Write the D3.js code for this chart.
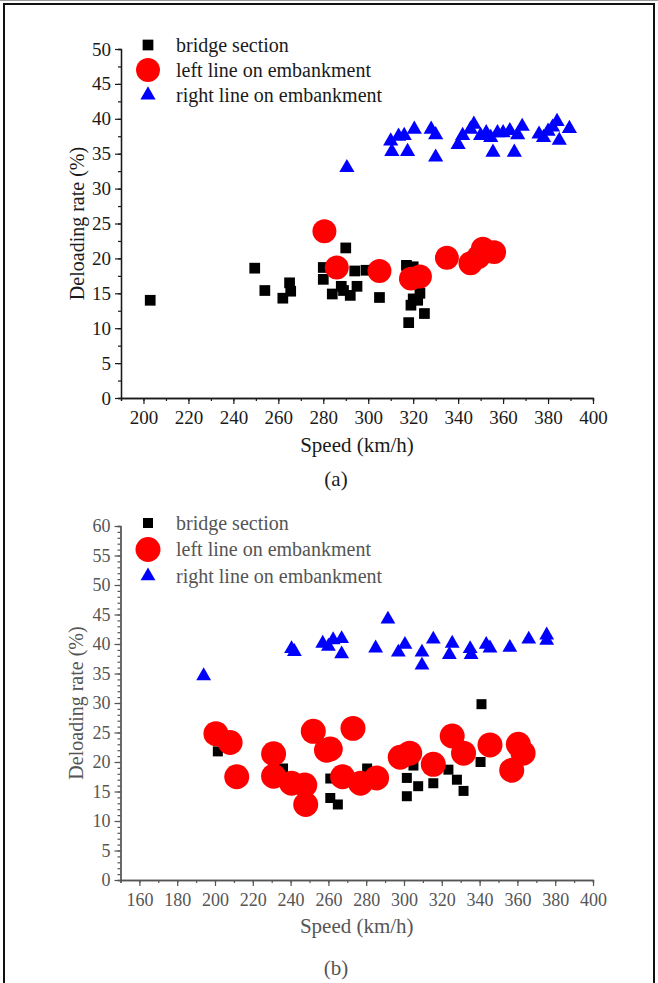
<!DOCTYPE html>
<html>
<head>
<meta charset="utf-8">
<script src="https://cdn.jsdelivr.net/npm/d3@7"></script>
<style>
  body { margin: 0; background: #fff; }
  svg { display: block; }
  text { font-family: "Liberation Serif", "Times New Roman", serif; }
</style>
</head>
<body>
<div id="chart"></div>
<script>
// legend names
var seriesNames = ["bridge section", "left line on embankment", "right line on embankment"];

// panel (a) values: [speed km/h, deloading rate %]
var bridgeA = [[203,14.0],[249.5,18.6],[254,15.4],[262,14.3],[265,16.5],[265.5,15.3],[280,18.7],[280,17.0],
  [284,14.9],[290,21.5],[288,16.0],[289,15.4],[292,14.7],[295,16.0],[294,18.2],[299,18.3],[305,14.4],
  [317,19.0],[320,18.8],[318,10.8],[319,13.3],[320,14.2],[322,14.0],[323,15.0],[325,12.1],[321,17.5]];
var leftA = [[280.5,23.9],[286,18.7],[305,18.2],[319,17.1],[323,17.4],[335,20.1],[345.5,19.3],[349,20.2],
  [351,21.4],[356,20.9]];
var rightA = [[290.5,33.0],[310,36.8],[310.5,35.3],[313.5,37.5],[316,37.6],[317.5,35.3],[320.5,38.5],
  [328,38.5],[330,37.7],[330,34.5],[340,36.3],[342,37.6],[345.5,38.5],[347,39.2],[350,37.6],[352.5,38.0],
  [354.5,37.3],[355.5,35.2],[357.5,38.0],[360,38.0],[363,38.3],[365,35.2],[366.5,37.7],[368.5,38.9],
  [376,37.8],[378,37.3],[380,38.2],[382,38.8],[384,39.6],[385,36.9],[389.5,38.6]];

// panel (b) values
var bridgeB = [[201.5,21.8],[236,18.9],[261,17.2],[261,13.9],[265,12.8],[280.5,18.9],[301.5,17.3],
  [301.5,14.2],[305,19.4],[307.5,15.9],[315.5,16.4],[323.5,18.7],[328,17.0],[331.5,15.1],[340.5,20.0],[341,29.8]];
var leftB = [[200.5,24.8],[208,23.3],[211.5,17.5],[231,21.4],[231,17.6],[240.5,16.4],[247.5,16.1],[248,12.8],
  [252,25.2],[259,22.0],[261,22.2],[273,25.7],[267.5,17.5],[277,16.4],[285.5,17.3],[298,20.8],[303,21.5],
  [315.5,19.6],[325.5,24.4],[331.5,21.5],[345.5,22.9],[357,18.6],[360.5,23.0],[363,21.5]];
var rightB = [[194,34.6],[240.5,39.2],[242,38.7],[257,40.1],[260,39.6],[262.5,40.7],[267,40.9],[267,38.3],
  [285,39.3],[291.5,44.2],[297,38.6],[300.5,39.9],[309.5,38.6],[309.5,36.4],[315.5,40.8],[324,38.2],
  [325.5,40.1],[335,39.2],[335.5,38.2],[343.5,39.9],[345.5,39.3],[356,39.4],[366,40.8],[375.5,41.5],[375.5,40.6]];

// axis ticks
var xTicksA = d3.range(200, 401, 20), xMinorA = d3.range(190, 401, 10);
var yTicksA = d3.range(0, 51, 5), yMinorA = d3.range(0, 50.1, 2.5);
var xTicksB = d3.range(160, 401, 20), xMinorB = d3.range(150, 401, 10);
var yTicksB = d3.range(0, 61, 5), yMinorB = d3.range(0, 61, 1);

var svg = d3.select("#chart").append("svg")
  .attr("width", 658)
  .attr("height", 983);

// frame around the figure
svg.append("line").attr("x1", 0).attr("x2", 658).attr("y1", 0.5).attr("y2", 0.5)
  .attr("stroke", "#999").attr("stroke-width", 1);
svg.append("rect").attr("x", 4).attr("y", 4).attr("width", 650).attr("height", 995)
  .attr("fill", "none").attr("stroke", "#111").attr("stroke-width", 2);

var colors = ["#000000", "#ff0000", "#0000ff"];

function drawPanel(p) {
  var x = d3.scaleLinear().domain(p.xDomain).range([p.left, p.right]);
  var y = d3.scaleLinear().domain(p.yDomain).range([p.bottom, p.top]);
  var g = svg.append("g");
  var ink = p.ink;

  // minor ticks
  g.append("g").attr("transform", "translate(0," + p.bottom + ")")
    .call(d3.axisBottom(x).tickValues(p.xMinor).tickSize(3).tickFormat(""));
  g.append("g").attr("transform", "translate(" + p.left + ",0)")
    .call(d3.axisLeft(y).tickValues(p.yMinor).tickSize(3).tickFormat(""));

  // major ticks
  var xAxis = g.append("g").attr("transform", "translate(0," + p.bottom + ")")
    .call(d3.axisBottom(x).tickValues(p.xTicks).tickSize(6).tickPadding(7).tickSizeOuter(0));
  var yAxis = g.append("g").attr("transform", "translate(" + p.left + ",0)")
    .call(d3.axisLeft(y).tickValues(p.yTicks).tickSize(6).tickPadding(4).tickSizeOuter(0));

  g.selectAll("g").attr("font-family", null);
  g.selectAll(".domain").attr("stroke", ink).attr("stroke-width", 1.3);
  g.selectAll(".tick line").attr("stroke", ink).attr("stroke-width", 1.2);
  xAxis.selectAll(".tick text").attr("fill", ink).style("font-size", p.tickFont + "px");
  yAxis.selectAll(".tick text").attr("fill", ink).style("font-size", p.tickFont + "px");

  // axis titles
  g.append("text")
    .attr("x", (p.left + p.right) / 2)
    .attr("y", p.bottom + p.titleGap)
    .attr("text-anchor", "middle")
    .attr("fill", ink)
    .style("font-size", "21px")
    .text("Speed (km/h)");
  g.append("text")
    .attr("transform", "translate(" + p.yTitleX + "," + ((p.top + p.bottom) / 2) + ") rotate(-90)")
    .attr("text-anchor", "middle")
    .attr("fill", ink)
    .style("font-size", "20px")
    .text("Deloading rate (%)");
  g.append("text")
    .attr("x", 336)
    .attr("y", p.captionY)
    .attr("text-anchor", "middle")
    .attr("fill", ink)
    .style("font-size", "21px")
    .text(p.caption);

  var shapes = [d3.symbolSquare, d3.symbolCircle, d3.symbolTriangle];
  var sizes = p.sizes;

  // points: squares, circles, then triangles
  p.series.forEach(function(data, i) {
    g.selectAll(null)
      .data(data)
      .enter()
      .append("path")
        .attr("d", d3.symbol().type(shapes[i]).size(sizes[i]))
        .attr("transform", function(d) { return "translate(" + x(d[0]) + "," + y(d[1]) + ")"; })
        .attr("fill", colors[i]);
  });

  // legend
  seriesNames.forEach(function(name, i) {
    var ly = p.legendY + i * p.legendStep;
    g.append("path")
      .attr("d", d3.symbol().type(shapes[i]).size(sizes[i]))
      .attr("transform", "translate(148," + ly + ")")
      .attr("fill", colors[i]);
    g.append("text")
      .attr("x", 176)
      .attr("y", ly)
      .attr("dy", "0.33em")
      .attr("fill", ink)
      .style("font-size", "20px")
      .text(name);
  });
}

drawPanel({
  xDomain: [190, 400], yDomain: [0, 50],
  left: 121, right: 593, top: 49, bottom: 398,
  xTicks: xTicksA, xMinor: xMinorA, yTicks: yTicksA, yMinor: yMinorA,
  series: [bridgeA, leftA, rightA],
  sizes: [115, 450, 100],
  ink: "#1a1a1a", tickFont: 19,
  titleGap: 54, yTitleX: 84, captionY: 486, caption: "(a)",
  legendY: 45, legendStep: 25
});

drawPanel({
  xDomain: [150, 400], yDomain: [0, 60],
  left: 120.5, right: 593, top: 526, bottom: 880,
  xTicks: xTicksB, xMinor: xMinorB, yTicks: yTicksB, yMinor: yMinorB,
  series: [bridgeB, leftB, rightB],
  sizes: [100, 490, 95],
  ink: "#555", tickFont: 18,
  titleGap: 53, yTitleX: 83, captionY: 975, caption: "(b)",
  legendY: 523, legendStep: 26.5
});
</script>
</body>
</html>
